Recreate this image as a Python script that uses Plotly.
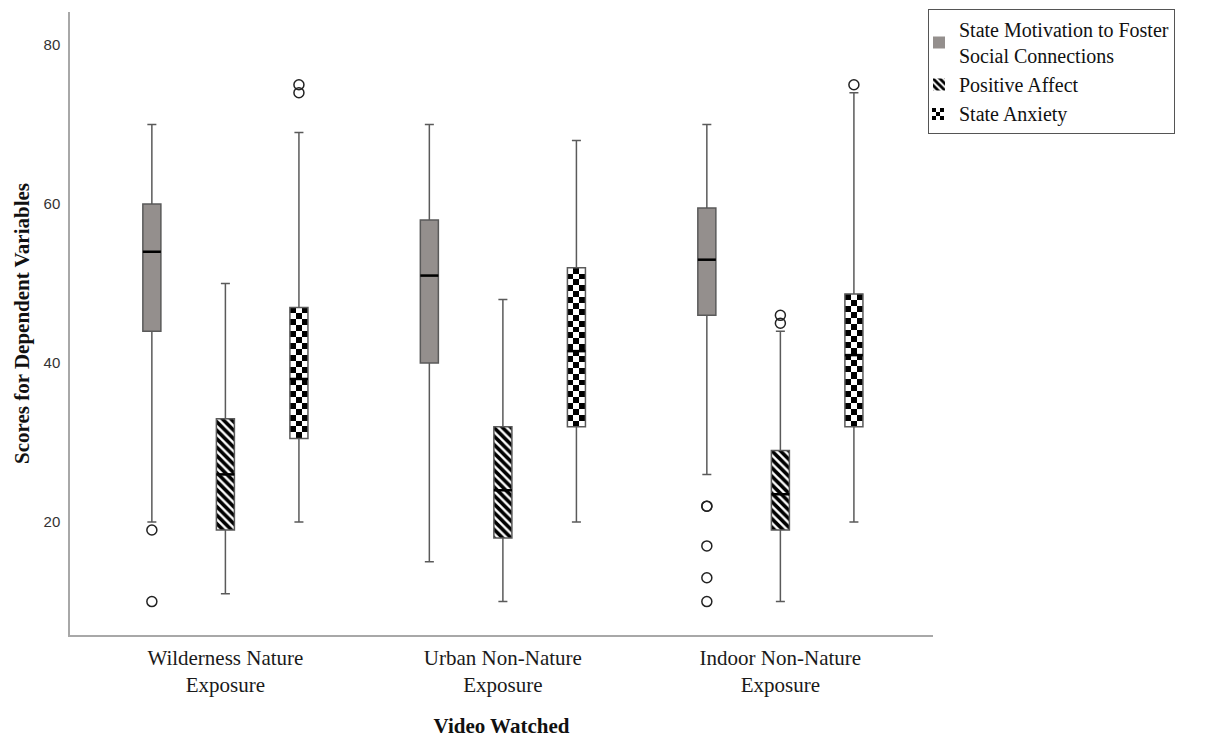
import plotly.graph_objects as go

# ---------------- data ----------------
categories = ["Wilderness Nature<br>Exposure", "Urban Non-Nature<br>Exposure", "Indoor Non-Nature<br>Exposure"]
series_names = ["State Motivation to Foster<br>Social Connections", "Positive Affect", "State Anxiety"]

sm_lower = [20, 15, 26]
sm_q1 = [44, 40, 46]
sm_median = [54, 51, 53]
sm_q3 = [60, 58, 59.5]
sm_upper = [70, 70, 70]
sm_outliers = [[19, 10], [], [22, 22, 17, 13, 10]]

pa_lower = [11, 10, 10]
pa_q1 = [19, 18, 19]
pa_median = [26, 24, 23.5]
pa_q3 = [33, 32, 29]
pa_upper = [50, 48, 44]
pa_outliers = [[], [], [45, 46]]

sa_lower = [20, 20, 20]
sa_q1 = [30.5, 32, 32]
sa_median = [38, 41.5, 41]
sa_q3 = [47, 52, 48.7]
sa_upper = [69, 68, 74]
sa_outliers = [[74, 75], [], [75]]

y_ticks = [20, 40, 60, 80]

# ---------------- styling / layout constants ----------------
PAGE_OFF = 8                      # default body margin of the html page
W, H = 1206 - PAGE_OFF, 741 - PAGE_OFF
ML, MR, MT, MB = 70 - PAGE_OFF, 5, 12 - PAGE_OFF, 106
PW, PH = W - ML - MR, H - MT - MB
plot_right_px = 933 - PAGE_OFF
offsets = [-0.265, 0.0, 0.265]
box_w = 0.065
whisker_col = "#5a5a5a"
serif = "Liberation Serif, Times New Roman, serif"
legend_font = 20
legend_indent = -10

legend_left_px = 928 - PAGE_OFF
legend_top_px = 1
sa_swatch_px = (legend_left_px + 20 + legend_indent, legend_top_px + 105)   # SA legend swatch centre
swatch_half = 6


def px_x(p):
    return (p - ML) / PW


def px_y(p):
    return (H - MB - p) / PH


series = [
    dict(lower=sm_lower, q1=sm_q1, med=sm_median, q3=sm_q3, upper=sm_upper, out=sm_outliers),
    dict(lower=pa_lower, q1=pa_q1, med=pa_median, q3=pa_q3, upper=pa_upper, out=pa_outliers),
    dict(lower=sa_lower, q1=sa_q1, med=sa_median, q3=sa_q3, upper=sa_upper, out=sa_outliers),
]

bar_markers = [
    dict(color="#948f8d", line=dict(width=0)),
    dict(color="white", line=dict(width=0),
         pattern=dict(shape="\\", fgcolor="black", bgcolor="white", fgopacity=1,
                      size=6, solidity=0.6)),
    dict(color="rgba(0,0,0,0)", line=dict(width=0)),
]

fig = go.Figure()

for si, s in enumerate(series):
    xs = [g + offsets[si] for g in range(len(categories))]
    q1 = s["q1"]
    q3 = s["q3"]
    if si < 2:
        fig.add_trace(go.Bar(
            x=xs, base=q1, y=[b - a for a, b in zip(q1, q3)], width=box_w,
            marker=bar_markers[si], name=series_names[si], showlegend=True,
            hoverinfo="skip"))
    else:
        # legend entry (its swatch is the small checkerboard drawn below)
        fig.add_trace(go.Bar(
            x=[xs[0]], base=[q1[0]], y=[0], width=box_w,
            marker=bar_markers[si], name=series_names[si], showlegend=True,
            hoverinfo="skip"))
        for xc, a, b in zip(xs, q1, q3):
            ncols = 3
            nrows = max(1, round((b - a) / 0.75))
            dx = box_w / ncols
            dy = (b - a) / nrows
            z = [[(i + j) % 2 for j in range(ncols)] for i in range(nrows)]
            fig.add_trace(go.Heatmap(
                z=z, x0=xc - box_w / 2 + dx / 2, dx=dx, y0=a + dy / 2, dy=dy,
                colorscale=[[0, "white"], [1, "black"]], zmin=0, zmax=1,
                showscale=False, hoverinfo="skip"))
    fig.add_trace(go.Box(
        x=xs, q1=q1, median=s["med"], q3=q3, lowerfence=s["lower"], upperfence=s["upper"],
        width=box_w, whiskerwidth=0.5, fillcolor="rgba(0,0,0,0)",
        line=dict(color=whisker_col, width=1.5), boxpoints=False,
        showlegend=False, hoverinfo="skip"))
    mx, my = [], []
    for xc, m in zip(xs, s["med"]):
        mx += [xc - box_w / 2, xc + box_w / 2, None]
        my += [m, m, None]
    fig.add_trace(go.Scatter(x=mx, y=my, mode="lines", line=dict(color="black", width=2.5),
                             showlegend=False, hoverinfo="skip"))
    ox, oy = [], []
    for xc, outs in zip(xs, s["out"]):
        for v in outs:
            ox.append(xc)
            oy.append(v)
    if ox:
        fig.add_trace(go.Scatter(
            x=ox, y=oy, mode="markers",
            marker=dict(symbol="circle-open", size=10, color="#222", line=dict(width=1.5)),
            showlegend=False, hoverinfo="skip"))

# checkerboard legend swatch for State Anxiety (tiny auxiliary axis)
fig.add_trace(go.Heatmap(
    z=[[(i + j + 1) % 2 for j in range(3)] for i in range(3)],
    colorscale=[[0, "white"], [1, "black"]], zmin=0, zmax=1, showscale=False,
    hoverinfo="skip", xaxis="x2", yaxis="y2"))

fig.update_layout(
    width=W, height=H,
    margin=dict(l=ML, r=MR, t=MT, b=MB, autoexpand=False),
    paper_bgcolor="white", plot_bgcolor="white",
    barmode="overlay",
    showlegend=True,
    legend=dict(x=px_x(legend_left_px), y=px_y(legend_top_px), xanchor="left", yanchor="top",
                bordercolor="#555", borderwidth=1, bgcolor="rgba(0,0,0,0)",
                font=dict(family=serif, size=legend_font, color="#111"),
                traceorder="normal", itemwidth=30, indentation=legend_indent),
    xaxis=dict(domain=[0, px_x(plot_right_px)], range=[-0.56, 2.55],
               tickvals=list(range(len(categories))), ticktext=categories,
               showline=True, linecolor="#a8a8a8", linewidth=1.5, ticks="", showgrid=False,
               zeroline=False, tickfont=dict(family=serif, size=21, color="#1a1a1a"),
               ticklabelstandoff=3,
               title=dict(text="<b>Video Watched</b>", font=dict(family=serif, size=21, color="#111"),
                          standoff=22)),
    yaxis=dict(range=[5.8, 84.15], tickvals=y_ticks, showline=True, linecolor="#a8a8a8",
               linewidth=1.5, ticks="", showgrid=False, zeroline=False,
               tickfont=dict(family="Liberation Sans, Arial, sans-serif", size=15, color="#333"),
               ticklabelstandoff=5,
               title=dict(text="<b>Scores for Dependent Variables</b>",
                          font=dict(family=serif, size=21, color="#111"), standoff=8)),
    xaxis2=dict(domain=[px_x(sa_swatch_px[0] - swatch_half), px_x(sa_swatch_px[0] + swatch_half)],
                range=[-0.5, 2.5], visible=False, anchor="y2", fixedrange=True),
    yaxis2=dict(domain=[px_y(sa_swatch_px[1] + swatch_half), px_y(sa_swatch_px[1] - swatch_half)],
                range=[-0.5, 2.5], visible=False, anchor="x2", fixedrange=True),
)

fig.write_html("out.html")
